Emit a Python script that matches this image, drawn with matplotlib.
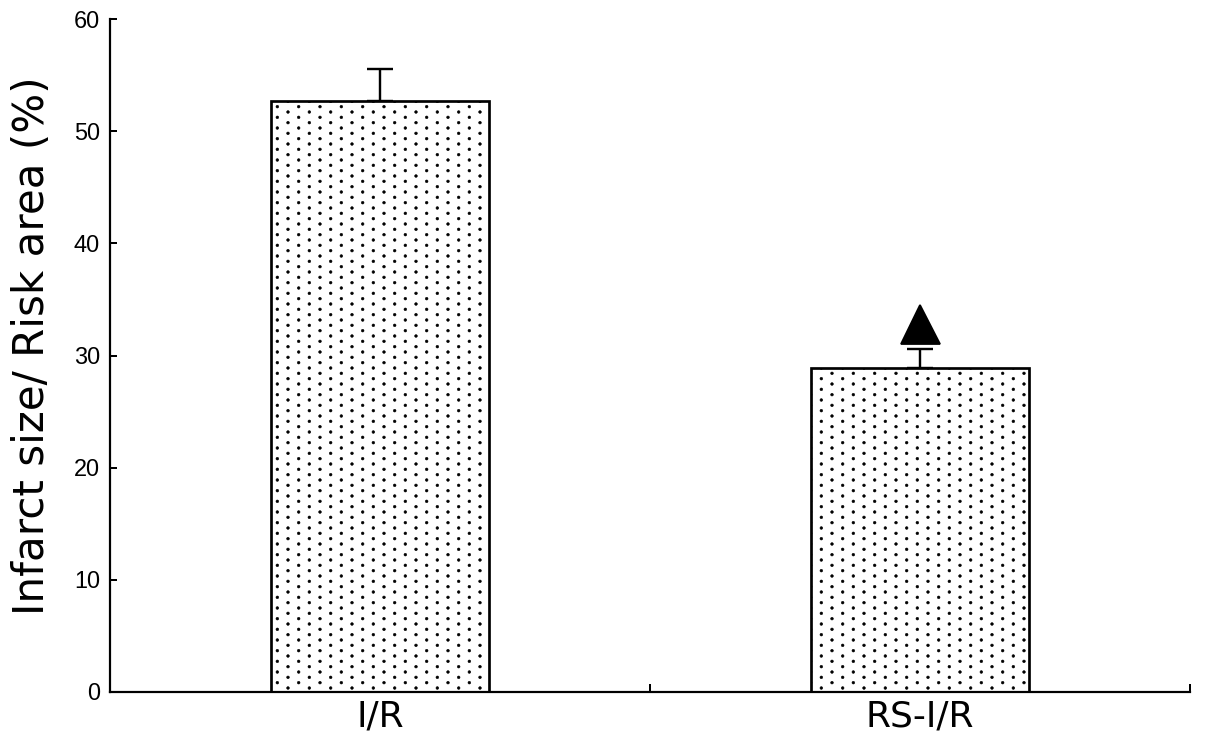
import numpy as np
import matplotlib
matplotlib.use("Agg")
import matplotlib.pyplot as plt
import matplotlib.hatch as mhatch
from matplotlib.path import Path

# ---- data ----
categories = ["I/R", "RS-I/R"]
values = [52.7, 28.9]
errors = [2.8, 1.7]
marker_y = [32.8]          # significance marker above RS-I/R
yticks = [0, 10, 20, 30, 40, 50, 60]
ylabel = "Infarct size/ Risk area (%)"

DPI = 128
W, H = 1205, 744


def pt(px):
    return px * 72.0 / DPI


# ---- staggered dot hatch (texture style) ----
class StaggeredDots(mhatch.HatchPatternBase):
    def __init__(self, hatch, density):
        self.on = hatch.count('.') > 0
        circ = Path.unit_circle()
        self.sv = circ.vertices * 0.0105
        self.sc = circ.codes
        self.cols = 6
        self.rows = 24
        if self.on:
            n = 0
            for r in range(self.rows + 1):
                n += (self.cols + 1) if r % 2 == 0 else self.cols
            self.num_vertices = n * len(self.sv)
        else:
            self.num_vertices = 0

    def set_vertices_and_codes(self, vertices, codes):
        vp, cp = [], []
        dx = 1.0 / self.cols
        for r in range(self.rows + 1):
            if r % 2 == 0:
                cols = np.linspace(0, 1, self.cols + 1)
            else:
                cols = np.linspace(dx / 2, 1 - dx / 2, self.cols)
            y = r / self.rows
            for x in cols:
                vp.append(self.sv + [x, y])
                cp.append(self.sc)
        np.concatenate(vp, out=vertices)
        np.concatenate(cp, out=codes)


mhatch._hatch_types = [StaggeredDots if t is mhatch.SmallFilledCircles else t
                       for t in mhatch._hatch_types]

plt.rcParams['hatch.linewidth'] = 0.3
plt.rcParams['hatch.color'] = 'black'

fig = plt.figure(figsize=(W / DPI, H / DPI), dpi=DPI)
ax = fig.add_axes([110 / W, (H - 692) / H, 1080 / W, 673 / H])

x = np.arange(len(categories)) + 0.5
ax.bar(x, values, width=0.402, color='white', edgecolor='black',
       linewidth=pt(2.7), hatch='.', zorder=2)
ax.errorbar(x, values, yerr=[np.zeros(len(values)), errors], fmt='none',
            ecolor='black', elinewidth=pt(2.4), capsize=pt(13),
            capthick=pt(2.4), zorder=1)
ax.plot([x[1]], marker_y, marker='^', ms=pt(39), color='black',
        linestyle='none', zorder=3)

ax.set_xlim(0, 2)
ax.set_ylim(0, 60)
for s in ['top', 'right']:
    ax.spines[s].set_visible(False)
for s in ['left', 'bottom']:
    ax.spines[s].set_linewidth(pt(2.2))

ax.set_yticks(yticks)
ax.set_yticklabels([str(v) for v in yticks], family='Liberation Sans',
                   fontsize=pt(23.5))
ax.tick_params(axis='y', direction='in', length=pt(7), width=pt(2),
               pad=pt(10))

ax.set_xticks([0, 1, 2])
ax.set_xticklabels([])
ax.set_xticks(x, minor=True)
ax.set_xticklabels(categories, minor=True, family='DejaVu Sans',
                   fontsize=pt(36))
ax.tick_params(axis='x', which='major', direction='in', length=pt(8),
               width=pt(2))
ax.tick_params(axis='x', which='minor', length=0, pad=pt(8))

ax.set_ylabel(ylabel, family='DejaVu Sans', fontsize=pt(42))
ax.yaxis.set_label_coords((53 - 110) / 1080, 0.514)

fig.savefig("out.png", dpi=DPI)
